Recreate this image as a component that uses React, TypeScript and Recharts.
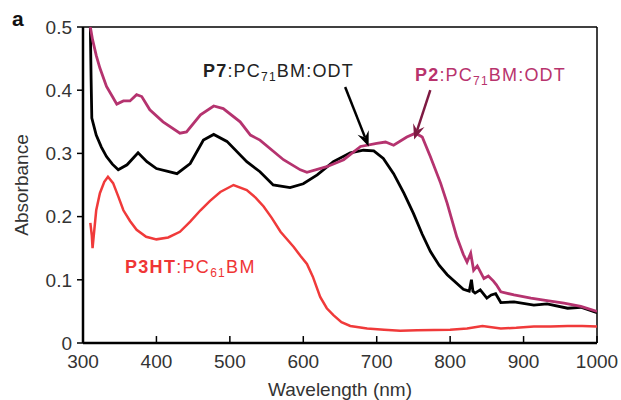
import { LineChart, Line, XAxis, YAxis, ReferenceLine } from "recharts";

// P2:PC71BM:ODT
const p2Wavelength = [
  310, 313, 318, 323, 332, 340, 346, 355, 364, 373, 380, 391, 409, 432, 441,
  460, 478, 491, 514, 528, 541, 573, 596, 605, 632, 655, 678, 700, 712, 723,
  741, 753, 762, 773, 787, 796, 809, 818, 823, 828, 832, 837, 846, 852, 859,
  863, 869, 887, 910, 932, 955, 978, 1000,
];
const p2Absorbance = [
  0.5, 0.48, 0.455, 0.435, 0.406, 0.39, 0.378, 0.383, 0.383, 0.393, 0.39,
  0.369, 0.35, 0.332, 0.334, 0.361, 0.375, 0.371, 0.35, 0.329, 0.321, 0.29,
  0.274, 0.27, 0.279, 0.29, 0.311, 0.316, 0.318, 0.313, 0.326, 0.332, 0.326,
  0.295, 0.253, 0.221, 0.168, 0.14, 0.128, 0.142, 0.115, 0.122, 0.102, 0.106,
  0.098, 0.092, 0.081, 0.076, 0.071, 0.067, 0.063, 0.058, 0.05,
];

// P7:PC71BM:ODT
const p7Wavelength = [
  310, 311, 312, 318, 325, 332, 340, 348, 360, 375, 387, 400, 428, 446, 464,
  478, 496, 523, 541, 559, 582, 600, 619, 641, 664, 682, 696, 709, 723, 737,
  750, 762, 773, 785, 796, 818, 826, 829, 831, 834, 841, 850, 856, 862, 869,
  887, 914, 932, 960, 978, 1000,
];
const p7Absorbance = [
  0.5, 0.42, 0.356, 0.329, 0.31, 0.295, 0.283, 0.274, 0.282, 0.301, 0.287,
  0.276, 0.268, 0.284, 0.321, 0.33, 0.319, 0.287, 0.271, 0.25, 0.246, 0.252,
  0.266, 0.287, 0.301, 0.305, 0.304, 0.292, 0.268, 0.237, 0.205, 0.172, 0.145,
  0.123, 0.108, 0.085, 0.082, 0.1, 0.082, 0.079, 0.084, 0.071, 0.076, 0.078,
  0.064, 0.065, 0.06, 0.062, 0.055, 0.0565, 0.048,
];

// P3HT:PC61BM
const p3htWavelength = [
  310, 312, 313, 318, 323, 329, 334, 341, 348, 355, 364, 373, 386, 400, 416,
  432, 446, 460, 473, 487, 505, 523, 535, 546, 557, 569, 587, 596, 605, 613,
  623, 632, 641, 652, 664, 687, 710, 732, 755, 778, 800, 823, 844, 869, 890,
  914, 937, 960, 980, 1000,
];
const p3htAbsorbance = [
  0.19, 0.17, 0.15, 0.21, 0.237, 0.255, 0.263, 0.253, 0.232, 0.21, 0.193,
  0.179, 0.168, 0.164, 0.167, 0.176, 0.192, 0.21, 0.225, 0.239, 0.25, 0.242,
  0.23, 0.216, 0.198, 0.176, 0.152, 0.138, 0.125, 0.105, 0.073, 0.055, 0.044,
  0.033, 0.027, 0.023, 0.021, 0.0195, 0.02, 0.0205, 0.021, 0.023, 0.027,
  0.023, 0.024, 0.026, 0.026, 0.027, 0.027, 0.026,
];

const xTicks = [300, 400, 500, 600, 700, 800, 900, 1000];
const yTicks = [0, 0.1, 0.2, 0.3, 0.4, 0.5];

// arrows: [tail, head] in (wavelength, absorbance)
const p7Arrow = [
  { x: 657, y: 0.405 },
  { x: 689, y: 0.311 },
];
const p2Arrow = [
  { x: 773, y: 0.4 },
  { x: 751, y: 0.322 },
];

const toPoints = (xs: number[], ys: number[]) =>
  xs.map((x, i) => ({ x, y: ys[i] }));

const FONT = "Arial, 'Liberation Sans', sans-serif";

const arrowShape = (color: string) => (props: any) => {
  const { x1, y1, x2, y2 } = props;
  const ang = Math.atan2(y2 - y1, x2 - x1);
  const len = 15;
  const w = 6;
  const bx = x2 - len * Math.cos(ang);
  const by = y2 - len * Math.sin(ang);
  const nx = -Math.sin(ang);
  const ny = Math.cos(ang);
  const mx = x2 - len * 0.65 * Math.cos(ang);
  const my = y2 - len * 0.65 * Math.sin(ang);
  return (
    <g>
      <line x1={x1} y1={y1} x2={mx} y2={my} stroke={color} strokeWidth={2.5} />
      <polygon
        points={`${x2},${y2} ${bx + nx * w},${by + ny * w} ${mx},${my} ${bx - nx * w},${by - ny * w}`}
        fill={color}
      />
    </g>
  );
};

export default function App() {
  return (
    <div
      style={{
        position: "absolute",
        left: 0,
        top: 0,
        width: 621,
        height: 400,
        background: "#fff",
        fontFamily: FONT,
      }}
    >
      <LineChart
        width={621}
        height={400}
        margin={{ top: 27, right: 24, bottom: 27, left: 23 }}
      >
        <XAxis
          dataKey="x"
          type="number"
          domain={[300, 1000]}
          ticks={xTicks}
          allowDataOverflow
          height={30}
          tickLine={false}
          tickMargin={6}
          axisLine={{ stroke: "#000", strokeWidth: 2.5 }}
          tick={{ fill: "#333", fontSize: 19, fontFamily: FONT }}
        />
        <YAxis
          type="number"
          domain={[0, 0.5]}
          ticks={yTicks}
          allowDataOverflow
          width={60}
          tickSize={6}
          tickMargin={5}
          tickFormatter={(v: number) => (v === 0 ? "0" : v.toFixed(1))}
          axisLine={{ stroke: "#000", strokeWidth: 2.5 }}
          tickLine={{ stroke: "#000", strokeWidth: 1.5 }}
          tick={{ fill: "#333", fontSize: 19, fontFamily: FONT }}
        />
        {/* box: top and right edges */}
        <ReferenceLine y={0.5} stroke="#000" strokeWidth={1.5} ifOverflow="visible" />
        <ReferenceLine x={1000} stroke="#000" strokeWidth={1.5} ifOverflow="visible" />
        {/* x ticks point inward */}
        {xTicks.map((t) => (
          <ReferenceLine
            key={t}
            segment={[
              { x: t, y: 0 },
              { x: t, y: 0.011 },
            ]}
            stroke="#000"
            strokeWidth={1.5}
            ifOverflow="visible"
          />
        ))}
        <Line
          data={toPoints(p3htWavelength, p3htAbsorbance)}
          dataKey="y"
          type="linear"
          stroke="#f03a3a"
          strokeWidth={2.5}
          dot={false}
          isAnimationActive={false}
        />
        <Line
          data={toPoints(p7Wavelength, p7Absorbance)}
          dataKey="y"
          type="linear"
          stroke="#000"
          strokeWidth={2.8}
          dot={false}
          isAnimationActive={false}
        />
        <Line
          data={toPoints(p2Wavelength, p2Absorbance)}
          dataKey="y"
          type="linear"
          stroke="#b5336f"
          strokeWidth={2.8}
          dot={false}
          isAnimationActive={false}
        />
        <ReferenceLine segment={p7Arrow} shape={arrowShape("#000")} ifOverflow="visible" />
        <ReferenceLine segment={p2Arrow} shape={arrowShape("#7e1a42")} ifOverflow="visible" />
      </LineChart>
      <svg
        width={621}
        height={400}
        style={{ position: "absolute", left: 0, top: 0, pointerEvents: "none" }}
      >
        <text x={12} y={26} fontSize={21} fontWeight="bold" fill="#111" fontFamily={FONT}>
          a
        </text>
        <text
          x={28}
          y={185}
          transform="rotate(-90 28 185)"
          textAnchor="middle"
          fontSize={19}
          fill="#333"
          fontFamily={FONT}
        >
          Absorbance
        </text>
        <text x={340} y={396} textAnchor="middle" fontSize={19} fill="#333" fontFamily={FONT}>
          Wavelength (nm)
        </text>
        <text x={203} y={77} fontSize={18} letterSpacing={1.2} fill="#222" fontFamily={FONT}>
          <tspan fontWeight="bold">P7</tspan>:PC
          <tspan fontSize={12} dy={4}>71</tspan>
          <tspan dy={-4}>BM:ODT</tspan>
        </text>
        <text x={415} y={81} fontSize={18} letterSpacing={1.2} fill="#b8336d" fontFamily={FONT}>
          <tspan fontWeight="bold">P2</tspan>:PC
          <tspan fontSize={12} dy={4}>71</tspan>
          <tspan dy={-4}>BM:ODT</tspan>
        </text>
        <text x={125} y={273} fontSize={18} letterSpacing={1.3} fill="#ef3535" fontFamily={FONT}>
          <tspan fontWeight="bold">P3HT</tspan>:PC
          <tspan fontSize={12} dy={4}>61</tspan>
          <tspan dy={-4}>BM</tspan>
        </text>
      </svg>
    </div>
  );
}
